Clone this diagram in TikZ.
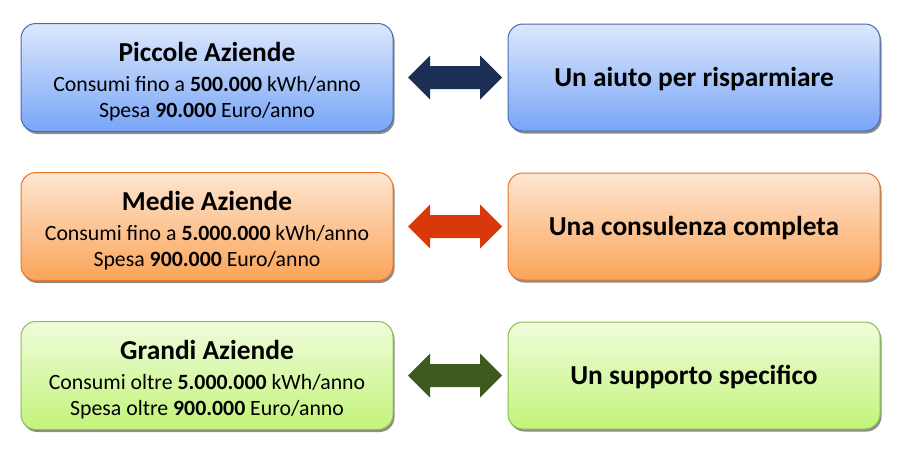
\documentclass[tikz,border=0pt]{standalone}
\usepackage{fontspec}
\setmainfont{Carlito}
\usetikzlibrary{shadows,calc}
\definecolor{bluetop}{HTML}{DCE8FC}
\definecolor{bluebot}{HTML}{78A5F7}
\definecolor{blueline}{HTML}{4A6AB5}
\definecolor{orgtop}{HTML}{FDE6D2}
\definecolor{orgbot}{HTML}{FBA458}
\definecolor{orgline}{HTML}{EC7428}
\definecolor{grntop}{HTML}{EFFCDB}
\definecolor{grnbot}{HTML}{C3F47A}
\definecolor{grnline}{HTML}{8CBF4E}
\definecolor{arrblue}{HTML}{1B2F55}
\definecolor{arrorg}{HTML}{D8380A}
\definecolor{arrgrn}{HTML}{3E5B1F}
\tikzset{
  box/.style={rounded corners=15pt, line width=1pt, align=center,
    drop shadow={shadow xshift=1.5pt, shadow yshift=-2.5pt, opacity=0.45, fill=black},
    font=\fontsize{21.8}{26}\selectfont, inner sep=0pt},
  leftbox/.style={box, minimum width=372pt, minimum height=108pt},
  rightbox/.style={box, minimum width=372pt, minimum height=107pt,
    font=\fontsize{27.4}{31}\selectfont\bfseries},
  bluebox/.style={draw=blueline, top color=bluetop, bottom color=bluebot},
  orgbox/.style={draw=orgline, top color=orgtop, bottom color=orgbot},
  grnbox/.style={draw=grnline, top color=grntop, bottom color=grnbot},
}
\newcommand{\ttl}[1]{{\fontsize{27.4}{31}\selectfont\bfseries\rule{0pt}{27pt}#1}\\[4pt]}
\newcommand{\dblarr}[3]{%
  \coordinate (#3) at ($(#1.east)!0.5!(#2.west)+(4.5,0)$);
  \fill[#3col] ($(#3)+(-47,0)$) -- ++(22,22) -- ++(0,-10.5) -- ++(50,0)
    -- ++(0,10.5) -- ++(22,-22) -- ++(-22,-22) -- ++(0,10.5) -- ++(-50,0)
    -- ++(0,-10.5) -- cycle;}
\tikzset{m1col/.style={fill=arrblue}, m2col/.style={fill=arrorg}, m3col/.style={fill=arrgrn}}
\begin{document}
\begin{tikzpicture}[x=1pt,y=-1pt]
\useasboundingbox (0,0) rectangle (900,450);
\node[leftbox,bluebox] (l1) at (207,77.5) {\ttl{Piccole Aziende}Consumi fino a \textbf{500.000} kWh/anno\\Spesa \textbf{90.000} Euro/anno};
\node[rightbox,bluebox] (r1) at (694,77.5) {\rule{0pt}{23pt}Un aiuto per risparmiare};
\node[leftbox,orgbox] (l2) at (207,226.5) {\ttl{Medie Aziende}Consumi fino a \textbf{5.000.000} kWh/anno\\Spesa \textbf{900.000} Euro/anno};
\node[rightbox,orgbox] (r2) at (694,226.5) {\rule{0pt}{23pt}Una consulenza completa};
\node[leftbox,grnbox] (l3) at (207,375.5) {\ttl{Grandi Aziende}Consumi oltre \textbf{5.000.000} kWh/anno\\Spesa oltre \textbf{900.000} Euro/anno};
\node[rightbox,grnbox] (r3) at (694,375.5) {\rule{0pt}{23pt}Un supporto specifico};
\dblarr{l1}{r1}{m1}
\dblarr{l2}{r2}{m2}
\dblarr{l3}{r3}{m3}
\end{tikzpicture}
\end{document}
